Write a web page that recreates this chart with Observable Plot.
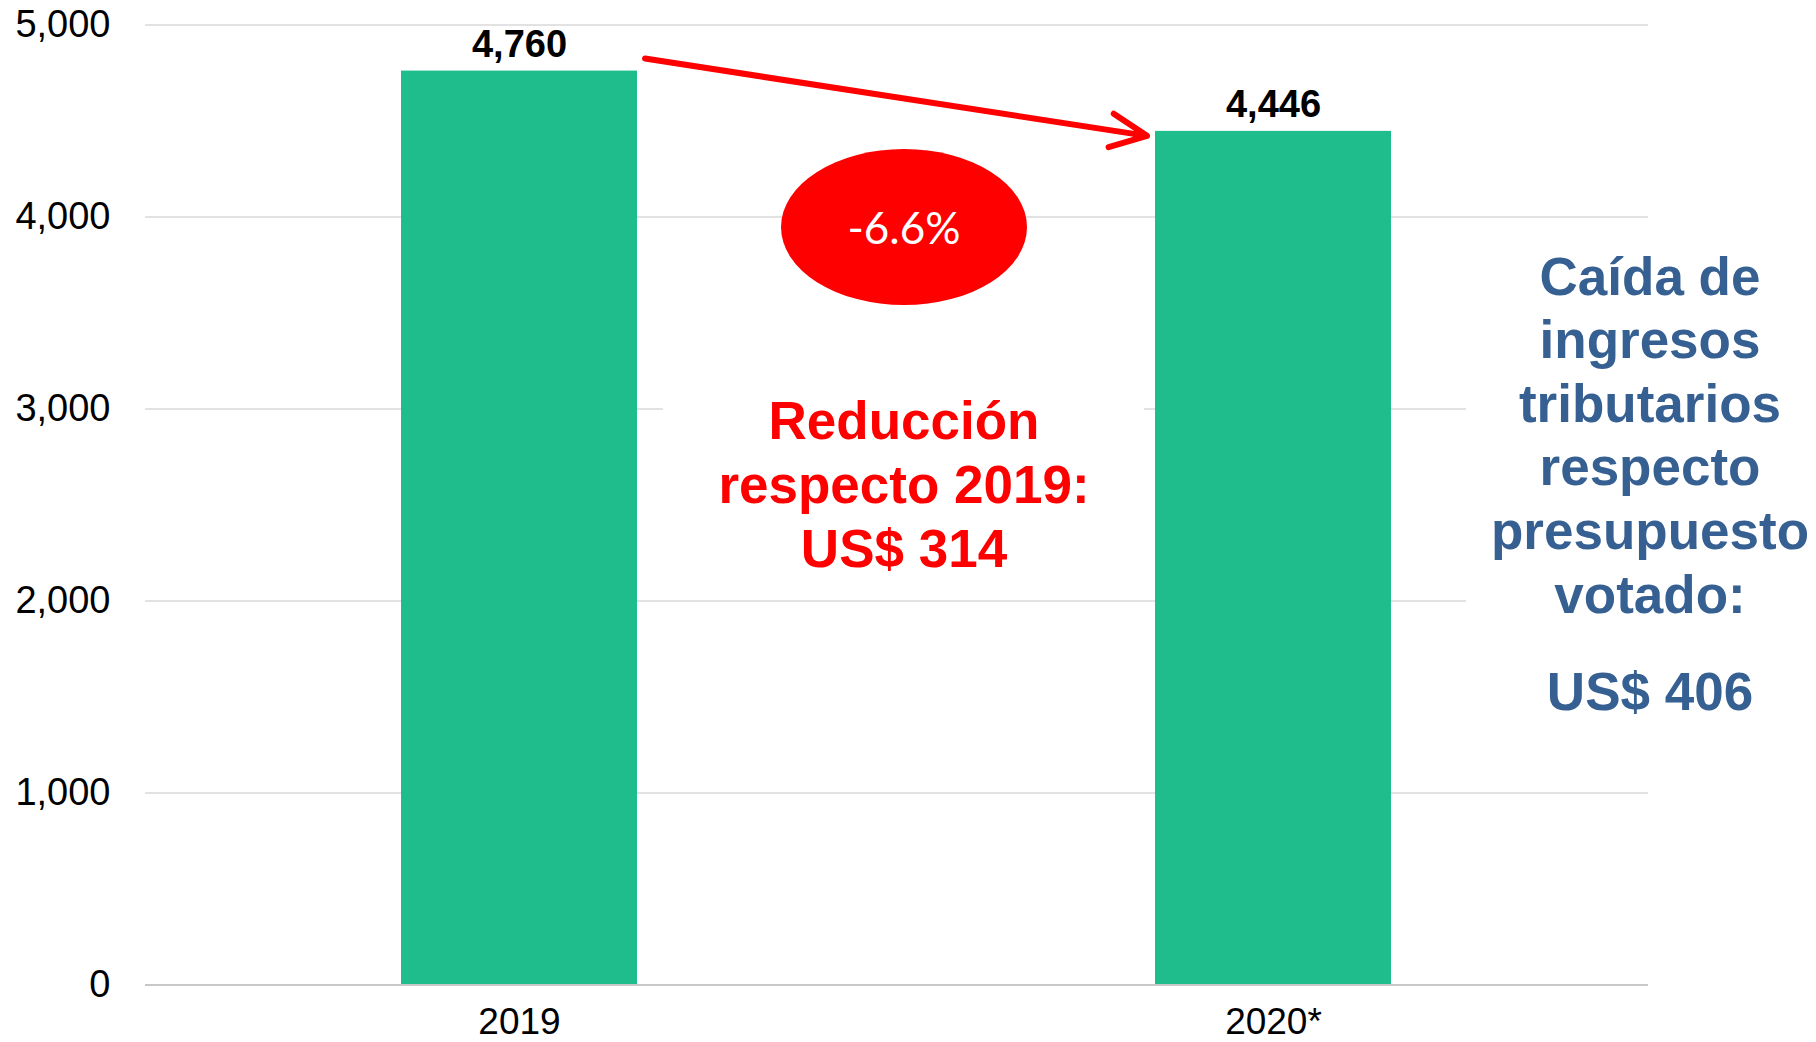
<!DOCTYPE html>
<html>
<head>
<meta charset="utf-8">
<script src="https://cdn.jsdelivr.net/npm/d3@7"></script>
<script src="https://cdn.jsdelivr.net/npm/@observablehq/plot@0.6"></script>
<style>
  html, body { margin: 0; padding: 0; background: #fff; }
  svg { display: block; }
</style>
</head>
<body>
<div id="chart"></div>
<script>
// ---- data ----
const years = ["2019", "2020*"];
const revenue = [4760, 4446];
const yTicks = [0, 1000, 2000, 3000, 4000, 5000];
const changeLabel = "-6.6%";
const reductionLines = ["Reducción", "respecto 2019:", "US$ 314"];
const budgetLines = ["Caída de", "ingresos", "tributarios", "respecto", "presupuesto", "votado:"];
const budgetValue = "US$ 406";

const data = years.map((year, i) => ({year, value: revenue[i]}));

const RED = "#FF0000";
const BLUE = "#376092";
const GREEN = "#1FBD8C";
const FONT = "'Liberation Sans', Arial, sans-serif";
const fmt = d3.format(",");

function bandInfo(scales) {
  const x = scales.x;
  const bw = typeof x.bandwidth === "function" ? x.bandwidth() : 236;
  const a = x(years[0]), b = x(years[1]);
  return {bw, a, b, mid: (a + bw + b) / 2 + 8};
}

// white boxes behind the annotation texts (they hide parts of the grid)
function occluders(index, scales, values, dimensions) {
  const {y} = scales;
  const {mid} = bandInfo(scales);
  const g = d3.create("svg:g");
  g.append("rect")
    .attr("x", mid - 241).attr("width", 481)
    .attr("y", y(3000) - 20).attr("height", 40)
    .attr("fill", "#fff");
  const right = dimensions.width - dimensions.marginRight;
  g.append("rect")
    .attr("x", right - 182).attr("width", dimensions.width - right + 182)
    .attr("y", y(3000) - 20).attr("height", y(2000) - y(3000) + 40)
    .attr("fill", "#fff");
  return g.node();
}

function annotations(index, scales, values, dimensions) {
  const {y} = scales;
  const {bw, a, b, mid} = bandInfo(scales);
  const g = d3.create("svg:g");

  // arrow from 2019 bar to 2020 bar
  const x1 = a + bw + 8, y1 = y(revenue[0]) - 12;
  const x2 = b - 8, y2 = y(revenue[1]) + 5;
  const ang = Math.atan2(y2 - y1, x2 - x1);
  const L = 40, h = 25 * Math.PI / 180;
  const p1 = [x2 - L * Math.cos(ang - h), y2 - L * Math.sin(ang - h)];
  const p2 = [x2 - L * Math.cos(ang + h), y2 - L * Math.sin(ang + h)];
  g.append("path")
    .attr("d", `M${x1},${y1}L${x2},${y2}M${p1[0]},${p1[1]}L${x2},${y2}L${p2[0]},${p2[1]}`)
    .attr("fill", "none").attr("stroke", RED).attr("stroke-width", 6)
    .attr("stroke-linecap", "round").attr("stroke-linejoin", "round");

  // red ellipse with percentage
  const cy = y(3945);
  g.append("ellipse")
    .attr("cx", mid).attr("cy", cy).attr("rx", 123).attr("ry", 78)
    .attr("fill", RED);
  g.append("text")
    .attr("x", mid).attr("y", cy + 17)
    .attr("text-anchor", "middle")
    .attr("font-family", "Lato, 'Noto Sans', sans-serif")
    .attr("font-size", 44).attr("fill", "#fff")
    .text(changeLabel);

  // red reduction text
  const redBase = y(3000) + 30;
  reductionLines.forEach((t, i) => {
    g.append("text")
      .attr("x", mid).attr("y", redBase + i * 64)
      .attr("text-anchor", "middle")
      .attr("font-family", FONT).attr("font-weight", "bold")
      .attr("font-size", 53).attr("fill", RED)
      .text(t);
  });

  // blue budget text on the right
  const cx = dimensions.width - dimensions.marginRight + 2;
  const blueBase = y(3000) - 114;
  budgetLines.forEach((t, i) => {
    g.append("text")
      .attr("x", cx).attr("y", blueBase + i * 63.6)
      .attr("text-anchor", "middle")
      .attr("font-family", FONT).attr("font-weight", "bold")
      .attr("font-size", 53).attr("fill", BLUE)
      .text(t);
  });
  g.append("text")
    .attr("x", cx).attr("y", blueBase + 5 * 63.6 + 97)
    .attr("text-anchor", "middle")
    .attr("font-family", FONT).attr("font-weight", "bold")
    .attr("font-size", 53).attr("fill", BLUE)
    .text(budgetValue);

  return g.node();
}

const chart = Plot.plot({
  width: 1816,
  height: 1042,
  marginLeft: 145,
  marginRight: 168,
  marginTop: 24.5,
  marginBottom: 57.5,
  style: {fontFamily: FONT, background: "#fff", color: "#000", overflow: "visible"},
  x: {domain: years, paddingInner: 0.687, paddingOuter: 0.34, label: null},
  y: {domain: [0, 5000], label: null},
  marks: [
    Plot.ruleY(yTicks.filter(d => d > 0), {stroke: "#d9d9d9", strokeWidth: 1.5}),
    occluders,
    Plot.barY(data, {x: "year", y: "value", fill: GREEN}),
    Plot.ruleY([0], {stroke: "#c8c8c8", strokeWidth: 2}),
    Plot.text(data, {
      x: "year", y: "value",
      text: d => fmt(d.value),
      dy: -14, lineAnchor: "bottom",
      fontSize: 38, fontWeight: "bold", fill: "#000"
    }),
    Plot.axisY({ticks: yTicks, tickSize: 0, tickPadding: 35, tickFormat: fmt, fontSize: 38, label: null}),
    Plot.axisX({tickSize: 0, tickPadding: 23, fontSize: 37, label: null}),
    annotations
  ]
});

document.getElementById("chart").appendChild(chart);
</script>
</body>
</html>
